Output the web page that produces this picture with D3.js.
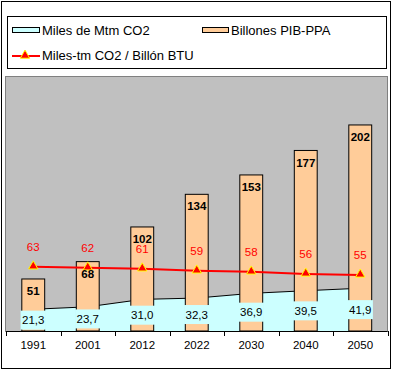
<!DOCTYPE html>
<html>
<head>
<meta charset="utf-8">
<script src="https://cdn.jsdelivr.net/npm/d3@7"></script>
<style>
  body { margin: 0; background: #fff; }
  svg { display: block; font-family: "Liberation Sans", Arial, sans-serif; }
</style>
</head>
<body>
<div id="chart"></div>
<script>
// Chart data
const categories = ["1991", "2001", "2012", "2022", "2030", "2040", "2050"];
const pibValues = [51, 68, 102, 134, 153, 177, 202];          // Billones PIB-PPA
const co2Values = [21.3, 23.7, 31.0, 32.3, 36.9, 39.5, 41.9]; // Miles de Mtm CO2
const intensityValues = [63, 62, 61, 59, 58, 56, 55];         // Miles-tm CO2 / Billón BTU
const yDomain = [0, 250];

const W = 393, H = 372;
const plot = { left: 6, right: 387.5, top: 76, bottom: 331 };

const COLORS = {
    plotBg: "#C0C0C0",
    area: "#CCFFFF",
    bar: "#FFCC99",
    line: "#FF0000",
    marker: "#FF0000",
    markerStroke: "#FFFF00",
    lineLabel: "#FF0000"
};

const commaFormat = d3.formatLocale({ decimal: ",", thousands: ".", grouping: [3], currency: ["", ""] }).format(".1f");

const svg = d3.select("#chart")
    .append("svg")
    .attr("width", W)
    .attr("height", H);

// Outer chart border
svg.append("rect")
    .attr("x", 1.5).attr("y", 1.5)
    .attr("width", W - 4).attr("height", H - 5)
    .attr("fill", "#fff")
    .attr("stroke", "#000");

// Scales
const xScale = d3.scaleBand()
    .domain(categories)
    .range([plot.left, plot.right])
    .paddingInner(0)
    .paddingOuter(0);

const yScale = d3.scaleLinear()
    .domain(yDomain)
    .range([plot.bottom, plot.top]);

const cx = d => xScale(d) + xScale.bandwidth() / 2;
const barW = xScale.bandwidth() * 0.42;

// Plot area
svg.append("rect")
    .attr("x", plot.left - 0.5)
    .attr("y", plot.top + 0.5)
    .attr("width", plot.right - plot.left + 0.5)
    .attr("height", plot.bottom - plot.top)
    .attr("fill", COLORS.plotBg)
    .attr("stroke", "#808080");

// Area series (CO2)
const co2Data = categories.map((c, i) => ({ cat: c, v: co2Values[i] }));

svg.append("path")
    .datum(co2Data)
    .attr("fill", COLORS.area)
    .attr("d", d3.area()
        .x(d => cx(d.cat))
        .y0(yScale(0))
        .y1(d => yScale(d.v)));

svg.append("path")
    .datum(co2Data)
    .attr("fill", "none")
    .attr("stroke", "#000")
    .attr("stroke-width", 1)
    .attr("d", d3.line()
        .x(d => cx(d.cat))
        .y(d => yScale(d.v)));

// Bars (PIB)
const pibData = categories.map((c, i) => ({ cat: c, v: pibValues[i] }));

svg.selectAll(".bar")
    .data(pibData)
    .enter()
    .append("rect")
    .attr("class", "bar")
    .attr("x", d => cx(d.cat) - barW / 2)
    .attr("width", barW)
    .attr("y", d => yScale(d.v))
    .attr("height", d => yScale(0) - yScale(d.v))
    .attr("fill", COLORS.bar)
    .attr("stroke", "#000")
    .attr("stroke-width", 1);

// Area labels with cyan boxes
const co2Labels = svg.selectAll(".co2-label")
    .data(co2Data)
    .enter()
    .append("g")
    .attr("class", "co2-label")
    .attr("transform", d => `translate(${cx(d.cat)},${yScale(d.v / 2)})`);

co2Labels.append("rect").attr("fill", COLORS.area);
co2Labels.append("text")
    .attr("text-anchor", "middle")
    .attr("dy", "0.36em")
    .style("font-size", "11.5px")
    .attr("fill", "#000")
    .text(d => commaFormat(d.v));

co2Labels.each(function () {
    const g = d3.select(this);
    const w = g.select("text").node().getComputedTextLength();
    g.select("rect")
        .attr("x", -w / 2 - 1.5)
        .attr("y", -9.5)
        .attr("width", w + 3)
        .attr("height", 19);
});

// Axis
const xAxis = svg.append("g")
    .attr("transform", `translate(0,${plot.bottom})`);

xAxis.append("line")
    .attr("x1", plot.left).attr("x2", plot.right)
    .attr("y1", 0.5).attr("y2", 0.5)
    .attr("stroke", "#000");

const boundaries = categories.map(c => xScale(c)).concat([plot.right]);
xAxis.selectAll(".tick")
    .data(boundaries)
    .enter()
    .append("line")
    .attr("x1", d => Math.round(d) + 0.5)
    .attr("x2", d => Math.round(d) + 0.5)
    .attr("y1", 0)
    .attr("y2", 5)
    .attr("stroke", "#000");

xAxis.selectAll(".cat-label")
    .data(categories)
    .enter()
    .append("text")
    .attr("x", d => cx(d))
    .attr("y", 14)
    .attr("dy", "0.36em")
    .attr("text-anchor", "middle")
    .style("font-size", "11.5px")
    .text(d => d);

// Line series (intensity)
const intData = categories.map((c, i) => ({ cat: c, v: intensityValues[i] }));

svg.append("path")
    .datum(intData)
    .attr("fill", "none")
    .attr("stroke", COLORS.line)
    .attr("stroke-width", 2)
    .attr("d", d3.line()
        .x(d => cx(d.cat))
        .y(d => yScale(d.v)));

const triangle = d3.symbol().type(d3.symbolTriangle).size(38);

svg.selectAll(".marker")
    .data(intData)
    .enter()
    .append("path")
    .attr("class", "marker")
    .attr("transform", d => `translate(${cx(d.cat)},${yScale(d.v) - 0.5})`)
    .attr("d", triangle)
    .attr("fill", COLORS.marker)
    .attr("stroke", COLORS.markerStroke)
    .attr("stroke-width", 1);

svg.selectAll(".int-label")
    .data(intData)
    .enter()
    .append("text")
    .attr("x", d => cx(d.cat))
    .attr("y", d => yScale(d.v) - 20)
    .attr("dy", "0.36em")
    .attr("text-anchor", "middle")
    .style("font-size", "11.5px")
    .attr("fill", COLORS.lineLabel)
    .text(d => d.v);

// Bar labels
svg.selectAll(".pib-label")
    .data(pibData)
    .enter()
    .append("text")
    .attr("x", d => cx(d.cat))
    .attr("y", d => yScale(d.v) + 12)
    .attr("dy", "0.36em")
    .attr("text-anchor", "middle")
    .style("font-size", "11.5px")
    .style("font-weight", "bold")
    .text(d => d.v);

// Legend
const legend = svg.append("g");

legend.append("rect")
    .attr("x", 7.5).attr("y", 16.5)
    .attr("width", 379).attr("height", 52)
    .attr("fill", "#fff")
    .attr("stroke", "#000");

legend.append("rect")
    .attr("x", 12.5).attr("y", 27.5)
    .attr("width", 27).attr("height", 5)
    .attr("fill", COLORS.area)
    .attr("stroke", "#000");

legend.append("text")
    .attr("x", 42).attr("y", 30)
    .attr("dy", "0.36em")
    .style("font-size", "13px")
    .text("Miles de Mtm CO2");

legend.append("rect")
    .attr("x", 202.5).attr("y", 27.5)
    .attr("width", 26).attr("height", 5)
    .attr("fill", COLORS.bar)
    .attr("stroke", "#000");

legend.append("text")
    .attr("x", 231).attr("y", 30)
    .attr("dy", "0.36em")
    .style("font-size", "13px")
    .text("Billones PIB-PPA");

legend.append("line")
    .attr("x1", 12).attr("x2", 40)
    .attr("y1", 56).attr("y2", 56)
    .attr("stroke", COLORS.line)
    .attr("stroke-width", 2);

legend.append("path")
    .attr("transform", "translate(25,55.5)")
    .attr("d", triangle)
    .attr("fill", COLORS.marker)
    .attr("stroke", COLORS.markerStroke);

legend.append("text")
    .attr("x", 42).attr("y", 55)
    .attr("dy", "0.36em")
    .style("font-size", "13px")
    .text("Miles-tm CO2 / Billón BTU");
</script>
</body>
</html>
